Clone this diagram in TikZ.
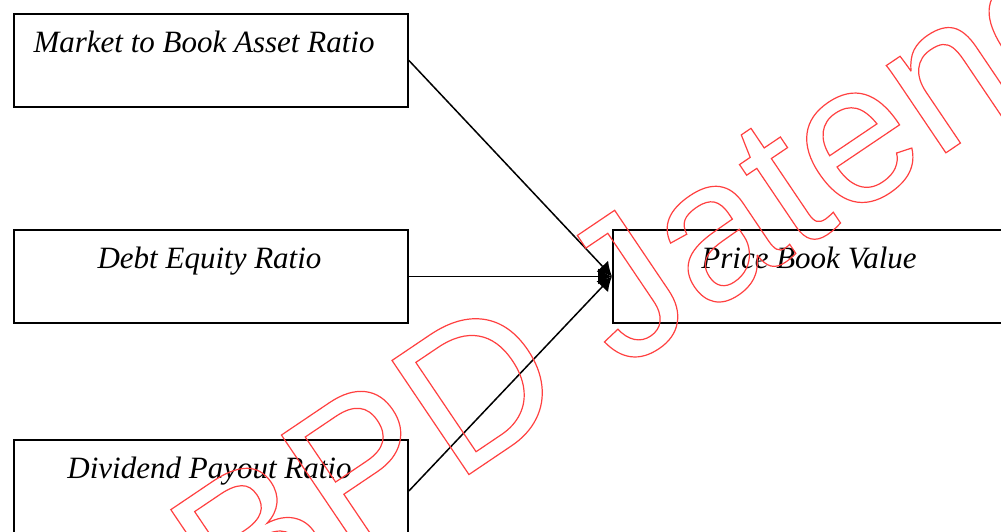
\documentclass[tikz,border=0pt]{standalone}
\usepackage{fontspec}
\setmainfont{Liberation Serif}
\newfontfamily\wmfont{Liberation Sans}
\usetikzlibrary{arrows.meta}
\begin{document}
\begin{tikzpicture}[x=1pt,y=-1pt,
  box/.style={draw,line width=1.9pt,rectangle,inner sep=0pt,anchor=north west},
  lbl/.style={anchor=base,inner sep=0pt,font=\fontsize{31}{36}\itshape\selectfont},
  link/.style={line width=1.5pt,-{Latex[length=14pt,width=16pt]}},
  wm/.style={anchor=base west,inner sep=0pt,rotate=34,text=red!75,font=\wmfont\fontsize{200}{240}\selectfont}]
\useasboundingbox (0,0) rectangle (1001,531);
\clip (0,0) rectangle (1001,531);
\node[box,minimum width=394pt,minimum height=93pt] (A) at (13,13) {};
\node[box,minimum width=394pt,minimum height=93pt] (B) at (13,229) {};
\node[box,minimum width=394pt,minimum height=102pt] (C) at (13,439) {};
\node[box,minimum width=394pt,minimum height=93pt] (D) at (612,229) {};
\node[lbl] (tA) at (204,52) {Market to Book Asset Ratio};
\node[lbl] (tB) at (209.5,268) {Debt Equity Ratio};
\node[lbl] (tC) at (209.5,478) {Dividend Payout Ratio};
\node[lbl] (tD) at (809,268) {Price Book Value};
\draw[link] (A.east) -- (D.west);
\draw[link] (B.east) -- (D.west);
\draw[link] (C.east) -- (D.west);
\node[wm] (wm) at (234,633) {\special{pdf:literal direct 1 Tr 1.2 w}BPD Jateng\special{pdf:literal direct 0 Tr}};
\end{tikzpicture}
\end{document}
